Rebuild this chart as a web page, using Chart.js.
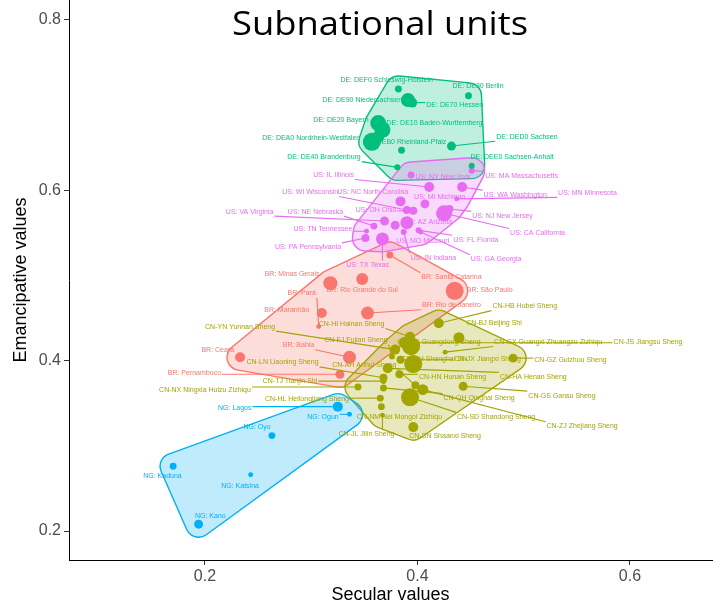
<!DOCTYPE html>
<html>
<head>
<meta charset="utf-8">
<script src="https://cdn.jsdelivr.net/npm/chart.js@4.4.0/dist/chart.umd.min.js"></script>
<style>
  html, body { margin: 0; padding: 0; background: #fff; }
  #wrap { width: 724px; height: 608px; }
</style>
</head>
<body>
<div id="wrap"><canvas id="chart" width="724" height="608"></canvas></div>
<script>
'use strict';

// ── Data (secular / emancipative values, n = weight used for point size) ──────

const TITLE = 'Subnational units';
const xTicks = [0.2, 0.4, 0.6];
const yTicks = [0.2, 0.4, 0.6, 0.8];

const brNames = ['BR: Minas Gerais', 'BR: Rio Grande do Sul', 'BR: Santa Catarina', 'BR: São Paulo', 'BR: Pará',
  'BR: Maranhão', 'BR: Rio de Janeiro', 'BR: Ceará', 'BR: Bahia', 'BR: Pernambuco'];
const brX = [0.318, 0.348, 0.374, 0.435, 0.307, 0.310, 0.353, 0.233, 0.336, 0.327];
const brY = [0.491, 0.496, 0.524, 0.482, 0.440, 0.456, 0.456, 0.404, 0.404, 0.384];
const brN = [49, 36, 12, 81, 6, 25, 42, 25, 42, 20];
const brLabX = [0.282, 0.348, 0.432, 0.468, 0.291, 0.277, 0.432, 0.212, 0.288, 0.190];
const brLabY = [0.502, 0.483, 0.498, 0.483, 0.479, 0.460, 0.465, 0.413, 0.418, 0.386];

const cnNames = ['CN-HB Hubei Sheng', 'CN-BJ Beijing Shi', 'CN-HI Hainan Sheng', 'CN-GD Guangdong Sheng',
  'CN-JS Jiangsu Sheng', 'CN-GX Guangxi Zhuangzu Zizhiqu', 'CN-SH Shanghai Shi', 'CN-JX Jiangxi Sheng',
  'CN-GZ Guizhou Sheng', 'CN-HN Hunan Sheng', 'CN-HA Henan Sheng', 'CN-GS Gansu Sheng', 'CN-QH Qinghai Sheng',
  'CN-SD Shandong Sheng', 'CN-ZJ Zhejiang Sheng', 'CN-AH Anhui Sheng', 'CN-SN Shaanxi Sheng',
  'CN-NM Nei Mongol Zizhiqu', 'CN-HL Heilongjiang Sheng', 'CN-JL Jilin Sheng', 'CN-NX Ningxia Huizu Zizhiqu',
  'CN-TJ Tianjin Shi', 'CN-LN Liaoning Sheng', 'CN-YN Yunnan Sheng', 'CN-FJ Fujian Sheng'];
const cnX = [0.420, 0.439, 0.393, 0.394, 0.388, 0.426, 0.396, 0.384, 0.490, 0.383, 0.372, 0.443, 0.368,
  0.393, 0.405, 0.398, 0.396, 0.366, 0.365, 0.367, 0.344, 0.368, 0.368, 0.379, 0.376];
const cnY = [0.444, 0.427, 0.428, 0.417, 0.421, 0.410, 0.396, 0.401, 0.403, 0.384, 0.391, 0.370, 0.368,
  0.357, 0.366, 0.371, 0.322, 0.346, 0.356, 0.336, 0.369, 0.376, 0.380, 0.413, 0.405];
const cnN = [25, 30, 25, 81, 36, 6, 81, 16, 20, 16, 25, 20, 12, 81, 30, 16, 25, 12, 12, 6, 12, 9, 16, 25, 9];
const cnLabX = [0.501, 0.472, 0.338, 0.420, 0.617, 0.523, 0.416, 0.466, 0.544, 0.433, 0.509, 0.536, 0.458,
  0.474, 0.555, 0.350, 0.426, 0.383, 0.296, 0.352, 0.200, 0.280, 0.273, 0.233, 0.342];
const cnLabY = [0.464, 0.444, 0.443, 0.422, 0.422, 0.422, 0.402, 0.402, 0.401, 0.381, 0.381, 0.359, 0.356,
  0.334, 0.323, 0.395, 0.312, 0.334, 0.355, 0.314, 0.366, 0.376, 0.398, 0.440, 0.424];

const deNames = ['DE: DEF0 Schleswig-Holstein', 'DE: DE30 Berlin', 'DE: DE90 Niedersachsen', 'DE: DE70 Hessen',
  'DE: DE20 Bayern', 'DE: DE10 Baden-Wurttemberg', 'DE: DEA0 Nordrhein-Westfalen', 'DE: DEB0 Rheinland-Pfalz',
  'DE: DED0 Sachsen', 'DE: DEE0 Sachsen-Anhalt', 'DE: DE40 Brandenburg', ''];
const deX = [0.382, 0.448, 0.391, 0.395, 0.363, 0.367, 0.357, 0.363, 0.432, 0.451, 0.381, 0.385];
const deY = [0.719, 0.711, 0.706, 0.703, 0.679, 0.671, 0.657, 0.663, 0.652, 0.629, 0.627, 0.647];
const deN = [12, 12, 49, 25, 64, 64, 81, 36, 20, 9, 9, 12];
const deLabX = [0.371, 0.457, 0.348, 0.435, 0.328, 0.416, 0.300, 0.388, 0.503, 0.489, 0.312, null];
const deLabY = [0.729, 0.722, 0.706, 0.700, 0.683, 0.679, 0.661, 0.657, 0.663, 0.639, 0.639, null];

const ngNames = ['NG: Lagos', 'NG: Ogun', 'NG: Oyo', 'NG: Kaduna', 'NG: Katsina', 'NG: Kano'];
const ngX = [0.325, 0.336, 0.263, 0.170, 0.243, 0.194];
const ngY = [0.346, 0.337, 0.312, 0.276, 0.266, 0.208];
const ngN = [25, 6, 12, 12, 6, 20];
const ngLabX = [0.228, 0.311, 0.249, 0.160, 0.233, 0.205];
const ngLabY = [0.344, 0.334, 0.322, 0.265, 0.253, 0.218];

const usNames = ['US: NY New York', 'US: MA Massachusetts', 'US: IL Illinois', 'US: WA Washington',
  'US: NC North Carolina', 'US: MI Michigan', 'US: MN Minnesota', 'US: WI Wisconsin', 'US: OH Ohio',
  'US: CA California', 'US: NJ New Jersey', 'US: VA Virginia', 'US: AZ Arizona', 'US: NE Nebraska',
  'US: TN Tennessee', 'US: FL Florida', 'US: PA Pennsylvania', 'US: TX Texas', 'US: MO Missouri',
  'US: IN Indiana', 'US: GA Georgia'];
const usX = [0.394, 0.451, 0.411, 0.442, 0.384, 0.407, 0.437, 0.390, 0.396, 0.425, 0.430, 0.369, 0.390,
  0.359, 0.352, 0.401, 0.351, 0.367, 0.379, 0.387, 0.403];
const usY = [0.618, 0.623, 0.604, 0.604, 0.587, 0.584, 0.590, 0.577, 0.576, 0.573, 0.578, 0.564, 0.562,
  0.558, 0.552, 0.553, 0.544, 0.543, 0.559, 0.551, 0.551];
const usN = [12, 9, 25, 25, 25, 20, 6, 16, 16, 64, 16, 20, 42, 12, 6, 9, 16, 42, 20, 9, 6];
const usLabX = [0.424, 0.498, 0.321, 0.492, 0.358, 0.421, 0.560, 0.299, 0.361, 0.513, 0.480, 0.242, 0.410,
  0.304, 0.311, 0.455, 0.297, 0.353, 0.405, 0.415, 0.474];
const usLabY = [0.616, 0.617, 0.618, 0.595, 0.598, 0.592, 0.597, 0.598, 0.577, 0.550, 0.570, 0.575, 0.563,
  0.575, 0.555, 0.542, 0.533, 0.512, 0.541, 0.521, 0.519];

// ── Groups (ggplot hue palette, alphabetical order) ───────────────────────────

const groups = [
  { names: brNames, x: brX, y: brY, n: brN, lx: brLabX, ly: brLabY, color: '#F8766D' },
  { names: cnNames, x: cnX, y: cnY, n: cnN, lx: cnLabX, ly: cnLabY, color: '#A3A500' },
  { names: deNames, x: deX, y: deY, n: deN, lx: deLabX, ly: deLabY, color: '#00BF7D' },
  { names: ngNames, x: ngX, y: ngY, n: ngN, lx: ngLabX, ly: ngLabY, color: '#00B0F6' },
  { names: usNames, x: usX, y: usY, n: usN, lx: usLabX, ly: usLabY, color: '#E76BF3' },
];

const HULL_PAD = 13;
const LABEL_FONT = '7px "Liberation Sans", Arial, sans-serif';

function rgba(hex, a) {
  const v = parseInt(hex.slice(1), 16);
  return `rgba(${(v >> 16) & 255},${(v >> 8) & 255},${v & 255},${a})`;
}

function convexHull(pts) {
  const p = pts.slice().sort((a, b) => a.x - b.x || a.y - b.y);
  const cross = (o, a, b) => (a.x - o.x) * (b.y - o.y) - (a.y - o.y) * (b.x - o.x);
  const lower = [];
  for (const q of p) {
    while (lower.length >= 2 && cross(lower[lower.length - 2], lower[lower.length - 1], q) <= 0) lower.pop();
    lower.push(q);
  }
  const upper = [];
  for (let i = p.length - 1; i >= 0; i--) {
    const q = p[i];
    while (upper.length >= 2 && cross(upper[upper.length - 2], upper[upper.length - 1], q) <= 0) upper.pop();
    upper.push(q);
  }
  upper.pop();
  lower.pop();
  return lower.concat(upper);
}

// ── Plugins ────────────────────────────────────────────────────────────────────

// expanded, rounded convex hull per group (like geom_mark_hull)
const hullPlugin = {
  id: 'hulls',
  beforeDatasetsDraw(chart) {
    const ctx = chart.ctx;
    groups.forEach((g, gi) => {
      const meta = chart.getDatasetMeta(gi);
      const pts = meta.data.map(el => ({ x: el.x, y: el.y }));
      const hull = convexHull(pts);
      const m = hull.length;
      ctx.save();
      ctx.beginPath();
      for (let i = 0; i < m; i++) {
        const prev = hull[(i - 1 + m) % m];
        const cur = hull[i];
        const next = hull[(i + 1) % m];
        const a1 = Math.atan2(-(cur.x - prev.x), cur.y - prev.y);
        const a2 = Math.atan2(-(next.x - cur.x), next.y - cur.y);
        ctx.arc(cur.x, cur.y, HULL_PAD, a1, a2, false);
      }
      ctx.closePath();
      ctx.fillStyle = rgba(g.color, 0.25);
      ctx.fill();
      ctx.lineWidth = 1.4;
      ctx.strokeStyle = g.color;
      ctx.stroke();
      ctx.restore();
    });
  },
};

// repelled-style text labels with leader segments
const labelPlugin = {
  id: 'pointLabels',
  afterDatasetsDraw(chart) {
    const ctx = chart.ctx;
    const xs = chart.scales.x;
    const ys = chart.scales.y;
    ctx.save();
    ctx.font = LABEL_FONT;
    ctx.textAlign = 'center';
    ctx.textBaseline = 'middle';
    groups.forEach((g, gi) => {
      const meta = chart.getDatasetMeta(gi);
      g.names.forEach((name, i) => {
        if (!name || g.lx[i] == null) return;
        const px = meta.data[i].x;
        const py = meta.data[i].y;
        const lx = xs.getPixelForValue(g.lx[i]);
        const ly = ys.getPixelForValue(g.ly[i]);
        const w = ctx.measureText(name).width;
        const left = lx - w / 2 - 1, right = lx + w / 2 + 1;
        const top = ly - 4.5, bottom = ly + 4.5;
        const cx = Math.min(Math.max(px, left), right);
        const cy = Math.min(Math.max(py, top), bottom);
        const d = Math.hypot(cx - px, cy - py);
        // short gaps get no segment (ggrepel min.segment.length)
        if (d > Math.sqrt(g.n[i]) + 7) {
          ctx.beginPath();
          ctx.moveTo(px, py);
          ctx.lineTo(cx, cy);
          ctx.lineWidth = 1.1;
          ctx.strokeStyle = g.color;
          ctx.stroke();
        }
        ctx.fillStyle = g.color;
        ctx.fillText(name, lx, ly);
      });
    });
    ctx.restore();
  },
};

const titlePlugin = {
  id: 'plotTitle',
  afterDraw(chart) {
    const ctx = chart.ctx;
    ctx.save();
    ctx.font = '32px "Open Sans", sans-serif';
    const w = ctx.measureText(TITLE).width;
    ctx.translate(380, 35);
    ctx.scale(296 / w, 1);
    ctx.fillStyle = '#000';
    ctx.textAlign = 'center';
    ctx.textBaseline = 'alphabetic';
    ctx.fillText(TITLE, 0, 0);
    ctx.restore();
  },
};

// ── Chart ──────────────────────────────────────────────────────────────────────

const datasets = groups.map(g => ({
  data: g.x.map((x, i) => ({ x, y: g.y[i] })),
  pointRadius: g.n.map(n => Math.sqrt(n)),
  pointHoverRadius: g.n.map(n => Math.sqrt(n)),
  pointBackgroundColor: g.color,
  pointBorderWidth: 0,
  showLine: false,
}));

const axisFont = { family: '"Liberation Sans", Arial, sans-serif', size: 16 };
const titleFont = { family: '"Liberation Sans", Arial, sans-serif', size: 18 };

new Chart(document.getElementById('chart'), {
  type: 'scatter',
  data: { datasets },
  options: {
    responsive: false,
    animation: false,
    devicePixelRatio: 1,
    layout: { autoPadding: false, padding: { left: 0, right: 12, top: 0, bottom: 0 } },
    plugins: { legend: { display: false }, tooltip: { enabled: false } },
    events: [],
    scales: {
      x: {
        type: 'linear',
        min: 0.072,
        max: 0.6772,
        afterBuildTicks: s => { s.ticks = xTicks.map(v => ({ value: v })); },
        afterFit: s => { s.height = 48; s.paddingLeft = 0; s.paddingRight = 0; },
        grid: { drawOnChartArea: false, tickLength: 5, color: '#333' },
        border: { display: true, color: '#000', width: 1 },
        ticks: { color: '#4d4d4d', font: axisFont, padding: 2, callback: v => v.toFixed(1) },
        title: { display: true, text: 'Secular values', color: '#000', font: titleFont, padding: { top: 0, bottom: 2 } },
      },
      y: {
        type: 'linear',
        min: 0.16595,
        max: 0.82348,
        afterBuildTicks: s => { s.ticks = yTicks.map(v => ({ value: v })); },
        afterFit: s => { s.width = 69; s.paddingTop = 0; s.paddingBottom = 0; },
        grid: { drawOnChartArea: false, tickLength: 5, color: '#333' },
        border: { display: true, color: '#000', width: 1 },
        ticks: { color: '#4d4d4d', font: axisFont, padding: 3, callback: v => v.toFixed(1) },
        title: { display: true, text: 'Emancipative values', color: '#000', font: titleFont, padding: { top: 10, bottom: 0 } },
      },
    },
  },
  plugins: [hullPlugin, labelPlugin, titlePlugin],
});
</script>
</body>
</html>
